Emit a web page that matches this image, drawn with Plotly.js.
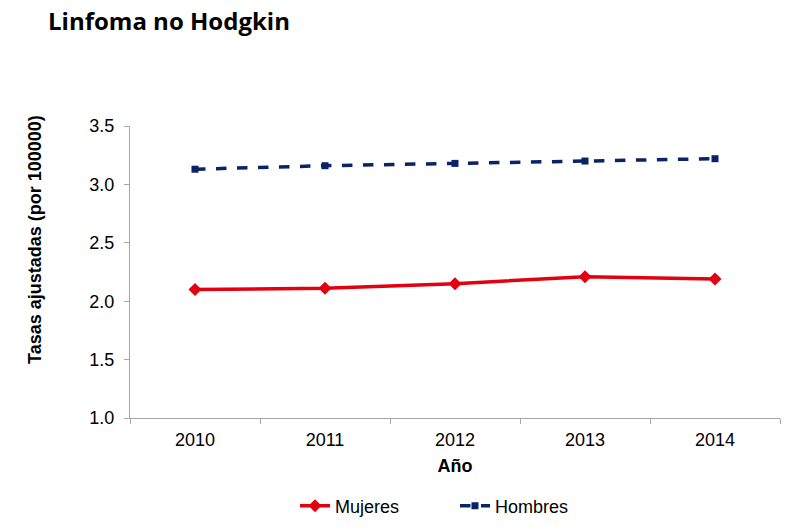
<!DOCTYPE html>
<html>
<head>
<meta charset="utf-8">
<script src="https://cdn.plot.ly/plotly-3.0.1.min.js"></script>
<style>html,body{margin:0;padding:0;background:#fff;}#chart{width:807px;height:530px;}</style>
</head>
<body>
<div id="chart"></div>
<script>
const years = ['2010', '2011', '2012', '2013', '2014'];
const mujeres = [2.10, 2.11, 2.15, 2.21, 2.19];
const hombres = [3.13, 3.16, 3.18, 3.20, 3.22];
const yTicks = [1.0, 1.5, 2.0, 2.5, 3.0, 3.5];

const traces = [
  {
    x: years, y: mujeres, name: 'Mujeres', type: 'scatter', mode: 'lines+markers',
    line: {color: '#e3000f', width: 3.5},
    marker: {symbol: 'diamond', size: 10, color: '#e3000f'}
  },
  {
    x: years, y: hombres, name: 'Hombres', type: 'scatter', mode: 'lines+markers',
    line: {color: '#0a2366', width: 3.5, dash: 'dash'},
    marker: {symbol: 'square', size: 7, color: '#0a2366'}
  }
];

const layout = {
  width: 807, height: 530,
  paper_bgcolor: '#fff', plot_bgcolor: '#fff',
  margin: {l: 130, r: 27, t: 126, b: 112},
  font: {family: 'Liberation Sans, Arial, sans-serif', size: 18, color: '#000'},
  title: {
    text: '<b>Linfoma no Hodgkin</b>',
    font: {family: 'Open Sans, Noto Sans, sans-serif', size: 24, color: '#000'},
    x: 48 / 807, xref: 'container', xanchor: 'left', y: 1 - 22 / 530, yref: 'container', yanchor: 'middle'
  },
  xaxis: {
    type: 'category', range: [-0.5, 4.5],
    showline: true, linecolor: '#a6a6a6', linewidth: 1,
    ticks: 'outside', tickson: 'boundaries', ticklen: 5, tickcolor: '#a6a6a6',
    ticklabelstandoff: 5,
    showgrid: false, zeroline: false,
    tickfont: {size: 18},
    title: {text: '<b>Año</b>', font: {size: 18}, standoff: 10}
  },
  yaxis: {
    range: [1.0, 3.5], tickvals: yTicks, ticktext: yTicks.map(v => v.toFixed(1)),
    showline: true, linecolor: '#a6a6a6', linewidth: 1,
    ticks: 'outside', ticklen: 5, tickcolor: '#a6a6a6',
    ticklabelstandoff: 6,
    showgrid: false, zeroline: false,
    tickfont: {size: 18}
  },
  annotations: [{
    text: '<b>Tasas ajustadas (por 100000)</b>',
    textangle: -90, showarrow: false,
    xref: 'paper', yref: 'paper',
    x: (35 - 130) / 650, y: (418 - 240) / 292,
    xanchor: 'center', yanchor: 'middle',
    font: {size: 18}
  }],
  legend: {
    orientation: 'h', x: 295 / 807, xanchor: 'left', xref: 'container',
    y: 1 - 506 / 530, yref: 'container', yanchor: 'middle',
    entrywidth: 115, entrywidthmode: 'pixels',
    font: {size: 18}
  },
  showlegend: true
};

Plotly.newPlot('chart', traces, layout, {displayModeBar: false, staticPlot: true});
</script>
</body>
</html>
